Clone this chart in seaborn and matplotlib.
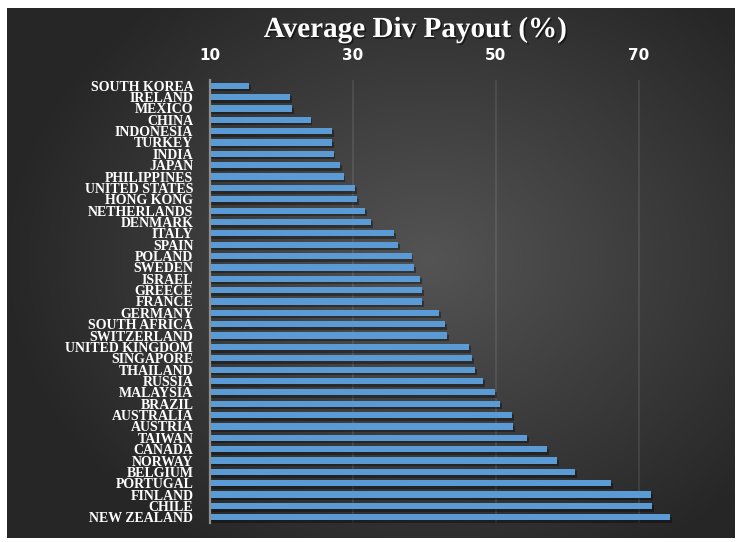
import numpy as np
import matplotlib
matplotlib.use("Agg")
import matplotlib.pyplot as plt
import matplotlib.patheffects as pe
import seaborn as sns

countries = ["SOUTH KOREA", "IRELAND", "MEXICO", "CHINA", "INDONESIA", "TURKEY",
             "INDIA", "JAPAN", "PHILIPPINES", "UNITED STATES", "HONG KONG",
             "NETHERLANDS", "DENMARK", "ITALY", "SPAIN", "POLAND", "SWEDEN",
             "ISRAEL", "GREECE", "FRANCE", "GERMANY", "SOUTH AFRICA",
             "SWITZERLAND", "UNITED KINGDOM", "SINGAPORE", "THAILAND", "RUSSIA",
             "MALAYSIA", "BRAZIL", "AUSTRALIA", "AUSTRIA", "TAIWAN", "CANADA",
             "NORWAY", "BELGIUM", "PORTUGAL", "FINLAND", "CHILE", "NEW ZEALAND"]
payout = [15.5, 21.2, 21.5, 24.1, 27.1, 27.1, 27.3, 28.2, 28.7, 30.3, 30.6,
          31.7, 32.6, 35.8, 36.3, 38.2, 38.6, 39.4, 39.7, 39.7, 42.1, 42.9,
          43.2, 46.3, 46.7, 47.1, 48.2, 49.9, 50.6, 52.3, 52.4, 54.4, 57.2,
          58.6, 61.1, 66.1, 71.7, 71.9, 74.4]
xticks = [10, 30, 50, 70]
title = "Average Div Payout (%)"

W, H = 739, 542
fig = plt.figure(figsize=(W / 100, H / 100), dpi=100)
fig.patch.set_facecolor("white")

# background radial gradient (chart area)
bg = fig.add_axes([0, 0, 1, 1])
bg.set_xlim(0, W)
bg.set_ylim(H, 0)
bg.axis("off")
x0, x1, y0, y1 = 7, 735, 8, 538
gx, gy = np.meshgrid(np.linspace(x0, x1, 400), np.linspace(y0, y1, 300))
cx, cy = 430, 260
d = np.sqrt(((gx - cx) / 430) ** 2 + ((gy - cy) / 340) ** 2)
d = np.clip(d, 0, 1)
inner = np.array([84, 84, 84]) / 255
outer = np.array([38, 38, 38]) / 255
img = inner[None, None, :] * (1 - d[..., None]) + outer[None, None, :] * d[..., None]
bg.imshow(img, extent=(x0, x1, y1, y0), aspect="auto", zorder=0)

# main axes
left_px, right_px, top_px, bot_px = 210, 730, 80, 523
ax = fig.add_axes([left_px / W, 1 - bot_px / H, (right_px - left_px) / W,
                   (bot_px - top_px) / H])
ax.patch.set_alpha(0)

sns.barplot(x=payout, y=countries, orient="h", color="#5B9BD5", width=0.55,
            ax=ax, saturation=1, zorder=3)
for p in ax.patches:
    p.set_edgecolor("none")
    p.set_path_effects([pe.SimplePatchShadow(offset=(1.2, -1.8),
                                             shadow_rgbFace="black", alpha=0.35),
                        pe.Normal()])

ax.set_xlim(10, 10 + (right_px - 209.7) / 7.15)
ax.set_ylim(len(countries) - 0.5, -0.5)
ax.set_xticks(xticks)
ax.xaxis.tick_top()
ax.tick_params(axis="x", length=0, pad=12, labelcolor="white")
ax.tick_params(axis="y", length=0, pad=12, labelcolor="white")
for lab in ax.get_xticklabels():
    lab.set_fontfamily("DejaVu Sans")
    lab.set_fontweight("bold")
    lab.set_fontsize(11)
for lab in ax.get_yticklabels():
    lab.set_fontfamily("Liberation Serif")
    lab.set_fontweight("bold")
    lab.set_fontsize(10)
ax.set_xlabel("")
ax.set_ylabel("")
ax.grid(axis="x", color="white", alpha=0.09, linewidth=1.5, zorder=0)
ax.set_axisbelow(True)
for s in ["top", "right", "bottom"]:
    ax.spines[s].set_visible(False)
ax.spines["left"].set_color("#8f8f8f")
ax.spines["left"].set_linewidth(1.6)
ax.spines["left"].set_zorder(5)

fig.text(415 / W, 1 - 37 / H, title, ha="center", va="baseline",
         fontsize=21, fontweight="bold", family="Liberation Serif", color="white",
         path_effects=[pe.SimplePatchShadow(offset=(1, -1), shadow_rgbFace="black",
                                            alpha=0.5) if False else
                       pe.withSimplePatchShadow(offset=(1.2, -1.2),
                                                shadow_rgbFace="black", alpha=0.5)])

fig.savefig("out.png", dpi=100, facecolor="white")
